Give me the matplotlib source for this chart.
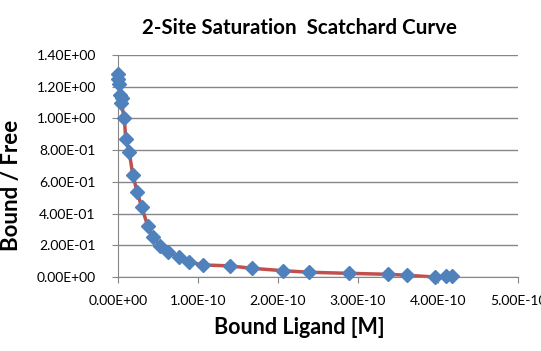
import matplotlib
matplotlib.use("Agg")
import matplotlib.pyplot as plt
from matplotlib.ticker import FuncFormatter, MultipleLocator

plt.rcParams['font.family'] = ['Lato', 'DejaVu Sans']

bound = [0.004e-10, 0.004e-10, 0.0125e-10, 0.025e-10, 0.046e-10, 0.04e-10, 0.079e-10, 0.097e-10,
         0.141e-10, 0.184e-10, 0.241e-10, 0.296e-10, 0.371e-10, 0.434e-10, 0.525e-10,
         0.629e-10, 0.763e-10, 0.891e-10, 1.066e-10, 1.40e-10, 1.67e-10, 2.06e-10,
         2.39e-10, 2.89e-10, 3.38e-10, 3.61e-10, 3.96e-10, 4.10e-10, 4.18e-10]
bound_free = [1.28, 1.25, 1.22, 1.15, 1.13, 1.10, 1.00, 0.87,
              0.787, 0.646, 0.534, 0.441, 0.323, 0.251, 0.198,
              0.156, 0.125, 0.093, 0.076, 0.070, 0.055, 0.040,
              0.030, 0.023, 0.017, 0.011, 0.0, 0.006, 0.006]

title = "2-Site Saturation  Scatchard Curve"
xlabel = "Bound Ligand [M]"
ylabel = "Bound / Free"

fig = plt.figure(figsize=(5.41, 3.51), dpi=100)
ax = fig.add_axes([118/541, 1-277/351, 400/541, 222/351])

ax.plot(bound, bound_free, color='#C0504D', lw=2.5, zorder=2, clip_on=False)
ax.plot(bound, bound_free, linestyle='none', marker='D', ms=7.5, color='#4F81BD',
        markeredgecolor='#4F81BD', zorder=3, clip_on=False)

ax.set_xlim(0, 5e-10)
ax.set_ylim(0, 1.4)
ax.xaxis.set_major_locator(MultipleLocator(1e-10))
ax.yaxis.set_major_locator(MultipleLocator(0.2))

def efmt(v, pos):
    if abs(v) < 1e-30:
        return "0.00E+00"
    return "%.2E" % v
ax.xaxis.set_major_formatter(FuncFormatter(efmt))
ax.yaxis.set_major_formatter(FuncFormatter(efmt))

ax.grid(axis='y', color='#868686', lw=1)
ax.set_axisbelow(True)
for s in ['top', 'right']:
    ax.spines[s].set_visible(False)
for s in ['left', 'bottom']:
    ax.spines[s].set_color('#868686')
ax.tick_params(axis='both', colors='#868686', length=4, labelsize=10, labelcolor='black')
ax.tick_params(axis='x', pad=9)
ax.tick_params(axis='y', pad=12)

fig.text(299/541, 1-28/351, title, ha='center', va='center', fontsize=14.8, fontweight='bold')
fig.text(299/541, 1-328/351, xlabel, ha='center', va='center', fontsize=15.5, fontweight='bold')
fig.text(12/541, 1-185/351, ylabel, ha='center', va='center', fontsize=16, fontweight='bold', rotation=90)

fig.savefig("out.png", dpi=100)
